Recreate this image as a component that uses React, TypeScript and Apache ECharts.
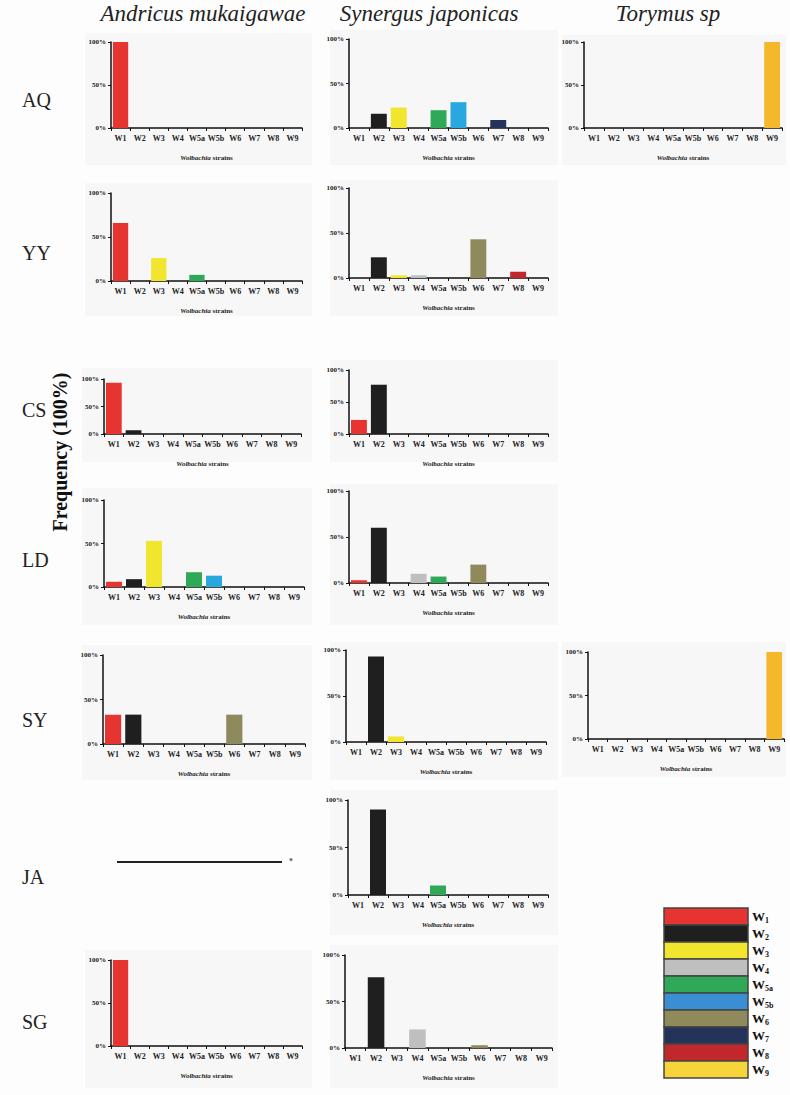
import React, { useEffect, useRef } from "react";
import * as echarts from "echarts";

const strains = ["W1", "W2", "W3", "W4", "W5a", "W5b", "W6", "W7", "W8", "W9"];
const legendSubs = ["1", "2", "3", "4", "5a", "5b", "6", "7", "8", "9"];
const strainColors = ["#e63431", "#1f1f1f", "#f1e52d", "#bfbfbf", "#2fa957", "#29a7df", "#8e8a5c", "#25325a", "#c1272d", "#f6b82b"];
const legendColors = ["#e63431", "#1f1f1f", "#f1e52d", "#bfbfbf", "#2fa957", "#3a8fd3", "#8e8a5c", "#25325a", "#c1272d", "#f7d53a"];
const yTicks = [0, 50, 100];

const sites = ["AQ", "YY", "CS", "LD", "SY", "JA", "SG"];
const species = ["Andricus mukaigawae", "Synergus japonicas", "Torymus sp"];

const aqAndricus = [100, 0, 0, 0, 0, 0, 0, 0, 0, 0];
const aqSynergus = [0, 16, 23, 0, 20, 29, 0, 9, 0, 0];
const aqTorymus = [0, 0, 0, 0, 0, 0, 0, 0, 0, 100];
const yyAndricus = [66, 0, 26, 0, 7, 0, 0, 0, 0, 0];
const yySynergus = [0, 23, 3, 3, 0, 0, 43, 0, 7, 0];
const csAndricus = [93, 7, 0, 0, 0, 0, 0, 0, 0, 0];
const csSynergus = [22, 77, 0, 0, 0, 0, 0, 0, 0, 0];
const ldAndricus = [6, 9, 53, 0, 17, 13, 0, 0, 0, 0];
const ldSynergus = [3, 60, 0, 10, 7, 0, 20, 0, 0, 0];
const syAndricus = [33, 33, 0, 0, 0, 0, 33, 0, 0, 0];
const sySynergus = [0, 93, 6, 0, 0, 0, 0, 0, 0, 0];
const syTorymus = [0, 0, 0, 0, 0, 0, 0, 0, 0, 100];
const jaSynergus = [0, 90, 0, 0, 10, 0, 0, 0, 0, 0];
const sgAndricus = [100, 0, 0, 0, 0, 0, 0, 0, 0, 0];
const sgSynergus = [0, 76, 0, 20, 0, 0, 3, 0, 0, 0];

const FONT = "Liberation Serif";

// panel layout: plot box [left, top, width, height], background box [x, y, w, h]
const panels = [
  { data: aqAndricus, plot: [111, 42, 191, 86], bg: [85, 33, 227, 132] },
  { data: aqSynergus, plot: [349, 39, 199, 89], bg: [330, 30, 228, 135] },
  { data: aqTorymus, plot: [584, 42, 198, 86], bg: [562, 35, 224, 130] },
  { data: yyAndricus, plot: [111, 193, 191, 88], bg: [85, 183, 227, 133] },
  { data: yySynergus, plot: [349, 188, 199, 90], bg: [330, 180, 228, 136] },
  { data: csAndricus, plot: [104, 379, 197, 55], bg: [82, 368, 230, 94] },
  { data: csSynergus, plot: [349, 370, 199, 64], bg: [330, 360, 228, 102] },
  { data: ldAndricus, plot: [104, 500, 200, 87], bg: [82, 488, 230, 137] },
  { data: ldSynergus, plot: [349, 491, 199, 92], bg: [330, 484, 228, 141] },
  { data: syAndricus, plot: [103, 655, 202, 89], bg: [82, 645, 230, 135] },
  { data: sySynergus, plot: [346, 650, 200, 92], bg: [330, 642, 228, 138] },
  { data: syTorymus, plot: [588, 652, 196, 87], bg: [562, 642, 224, 135] },
  { data: jaSynergus, plot: [348, 800, 200, 95], bg: [330, 790, 228, 145] },
  { data: sgAndricus, plot: [111, 960, 191, 86], bg: [85, 950, 227, 138] },
  { data: sgSynergus, plot: [345, 955, 207, 93], bg: [330, 945, 228, 143] },
];

const rowLabelY = [100, 253, 410, 560, 720, 877, 1022];
const titleX = [203, 429, 668];

function buildOption() {
  const grid: any[] = [];
  const xAxis: any[] = [];
  const yAxis: any[] = [];
  const series: any[] = [];
  const graphic: any[] = [];

  panels.forEach((p, i) => {
    graphic.push({
      type: "rect",
      z: -10,
      shape: { x: p.bg[0], y: p.bg[1], width: p.bg[2], height: p.bg[3] },
      style: { fill: "#f7f7f7" },
    });
    grid.push({ left: p.plot[0], top: p.plot[1], width: p.plot[2], height: p.plot[3], containLabel: false });
    xAxis.push({
      type: "category",
      gridIndex: i,
      data: strains,
      axisLine: { lineStyle: { color: "#111", width: 1.5 } },
      axisTick: { show: true, length: 3, lineStyle: { color: "#111" } },
      axisLabel: { fontFamily: FONT, fontSize: 8, fontWeight: "bold", color: "#222", margin: 6, interval: 0 },
      name: "{i|Wolbachia} strains",
      nameLocation: "middle",
      nameGap: 26,
      nameTextStyle: {
        fontFamily: FONT,
        fontSize: 7,
        fontWeight: "bold",
        color: "#222",
        rich: { i: { fontFamily: FONT, fontSize: 7, fontWeight: "bold", fontStyle: "italic", color: "#222" } },
      },
      splitLine: { show: false },
    });
    yAxis.push({
      type: "value",
      gridIndex: i,
      min: 0,
      max: 100,
      interval: 50,
      axisLine: { show: true, lineStyle: { color: "#111", width: 1.5 } },
      axisTick: { show: true, length: 3, lineStyle: { color: "#111" } },
      axisLabel: {
        fontFamily: FONT,
        fontSize: 7,
        fontWeight: "bold",
        color: "#222",
        margin: 5,
        formatter: (v: number) => (yTicks.includes(v) ? v + "%" : ""),
      },
      splitLine: { show: false },
    });
    series.push({
      type: "bar",
      xAxisIndex: i,
      yAxisIndex: i,
      barWidth: "80%",
      data: p.data.map((v, k) => ({ value: v, itemStyle: { color: strainColors[k] } })),
    });
  });

  // row labels
  sites.forEach((s, i) => {
    graphic.push({
      type: "text",
      x: 22,
      y: rowLabelY[i],
      style: { text: s, fontFamily: FONT, fontSize: 20, fill: "#222", verticalAlign: "middle" },
    });
  });
  // column titles
  species.forEach((s, i) => {
    graphic.push({
      type: "text",
      x: titleX[i],
      y: 13,
      style: { text: s, fontFamily: FONT, fontStyle: "italic", fontSize: 23, fill: "#222", align: "center", verticalAlign: "middle" },
    });
  });
  // frequency label
  graphic.push({
    type: "text",
    x: 60,
    y: 452,
    rotation: Math.PI / 2,
    style: { text: "Frequency (100%)", fontFamily: FONT, fontWeight: "bold", fontSize: 20, fill: "#111", align: "center", verticalAlign: "middle" },
  });
  // JA Andricus: no data line
  graphic.push({
    type: "line",
    shape: { x1: 117, y1: 862, x2: 282, y2: 862 },
    style: { stroke: "#222", lineWidth: 2 },
  });
  graphic.push({
    type: "text",
    x: 291,
    y: 861,
    style: { text: "*", fontFamily: FONT, fontWeight: "bold", fontSize: 8, fill: "#555", align: "center", verticalAlign: "middle" },
  });
  // legend
  const lx = 664, ly = 908, lw = 84, lh = 17;
  strains.forEach((s, k) => {
    graphic.push({
      type: "rect",
      shape: { x: lx, y: ly + k * lh, width: lw, height: lh },
      style: { fill: legendColors[k], stroke: "#444", lineWidth: 1.5 },
    });
    graphic.push({
      type: "text",
      x: lx + lw + 4,
      y: ly + k * lh + lh / 2,
      style: {
        text: `{b|W}{s|${legendSubs[k]}}`,
        verticalAlign: "middle",
        rich: {
          b: { fontFamily: FONT, fontWeight: "bold", fontSize: 13, fill: "#111" },
          s: { fontFamily: FONT, fontWeight: "bold", fontSize: 8, fill: "#111", padding: [7, 0, 0, 0] },
        },
      },
    });
  });

  return {
    animation: false,
    backgroundColor: "#fdfdfd",
    grid,
    xAxis,
    yAxis,
    series,
    graphic: { elements: graphic },
  };
}

export default function App() {
  const ref = useRef<HTMLDivElement>(null);
  useEffect(() => {
    if (!ref.current) return;
    const chart = echarts.init(ref.current, undefined, { renderer: "svg" });
    chart.setOption(buildOption() as any);
    return () => chart.dispose();
  }, []);
  return <div ref={ref} style={{ position: "absolute", left: 0, top: 0, width: 790, height: 1095 }} />;
}
